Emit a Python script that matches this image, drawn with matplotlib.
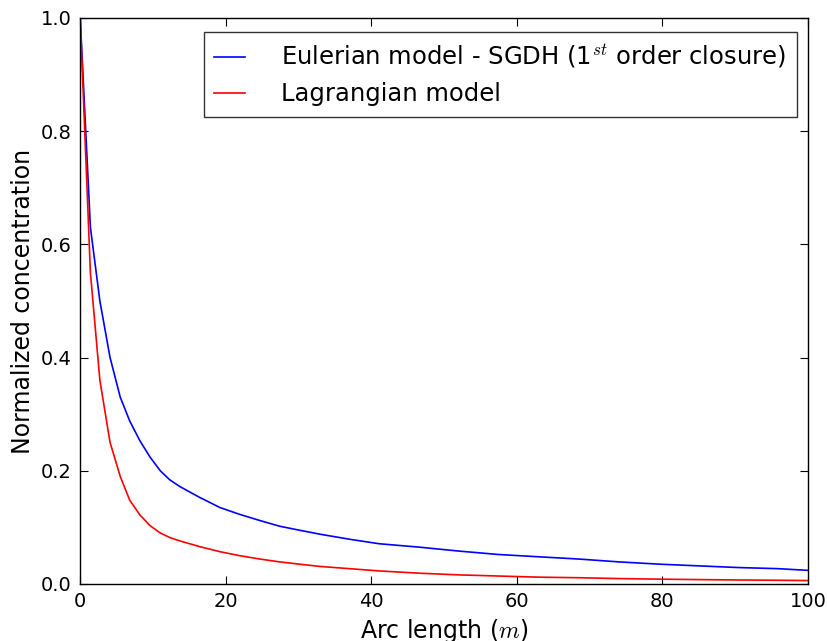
import numpy as np
import matplotlib
matplotlib.use('Agg')
import matplotlib.pyplot as plt

## arc length samples (m)
arc = [0.0, 1.4, 2.7, 4.1, 5.5, 6.8, 8.2, 9.6, 11.0, 12.3, 13.7, 16.4, 19.2,
       21.9, 24.7, 27.4, 30.1, 32.9, 37.0, 41.1, 46.6, 52.1, 57.5, 63.0,
       68.5, 74.0, 79.5, 84.9, 90.4, 95.9, 100.0]

## Eulerian model - SGDH (1st order closure)
eulerian = [1.0, 0.63, 0.50, 0.40, 0.33, 0.288, 0.253, 0.224, 0.200, 0.184,
            0.172, 0.153, 0.135, 0.123, 0.112, 0.102, 0.095, 0.088, 0.079,
            0.071, 0.065, 0.058, 0.052, 0.048, 0.044, 0.039, 0.035, 0.032,
            0.029, 0.027, 0.024]

## Lagrangian model
lagrangian = [1.0, 0.55, 0.36, 0.25, 0.19, 0.148, 0.122, 0.103, 0.090, 0.082,
              0.076, 0.066, 0.057, 0.050, 0.044, 0.039, 0.035, 0.031, 0.027,
              0.023, 0.019, 0.016, 0.014, 0.012, 0.011, 0.0095, 0.0085,
              0.0077, 0.007, 0.0065, 0.006]

plt.rcParams['mathtext.fontset'] = 'cm'
plt.rcParams['xtick.direction'] = 'in'
plt.rcParams['ytick.direction'] = 'in'
plt.rcParams['xtick.top'] = True
plt.rcParams['ytick.right'] = True

fig = plt.figure(figsize=(8.27, 6.41), dpi=100)
ax = fig.add_axes([0.097, 0.089, 0.880, 0.883])

ax.plot(arc, eulerian, color='blue', lw=1.2,
        label=r'Eulerian model - SGDH (1$^{st}$ order closure)')
ax.plot(arc, lagrangian, color='red', lw=1.2, label='Lagrangian model')

ax.set_xlim(0, 100)
ax.set_ylim(0, 1.0)
ax.set_xticks([0, 20, 40, 60, 80, 100])
ax.set_yticks([0.0, 0.2, 0.4, 0.6, 0.8, 1.0])
ax.yaxis.set_major_formatter(matplotlib.ticker.FormatStrFormatter('%.1f'))
ax.tick_params(labelsize=14, length=6, width=0.8, pad=6)
for s in ax.spines.values():
    s.set_linewidth(1.0)

ax.set_xlabel(r'Arc length ($m$)', fontsize=17)
ax.set_ylabel('Normalized concentration', fontsize=17)

leg = ax.legend(loc='upper right', fontsize=17.5, fancybox=False,
                handlelength=1.25, handletextpad=1.5, borderpad=0.45,
                labelspacing=0.45, borderaxespad=0,
                bbox_to_anchor=(0.985, 0.975))
leg.get_frame().set_edgecolor('black')
leg.get_frame().set_linewidth(1.0)

plt.savefig('out.png', dpi=100)
